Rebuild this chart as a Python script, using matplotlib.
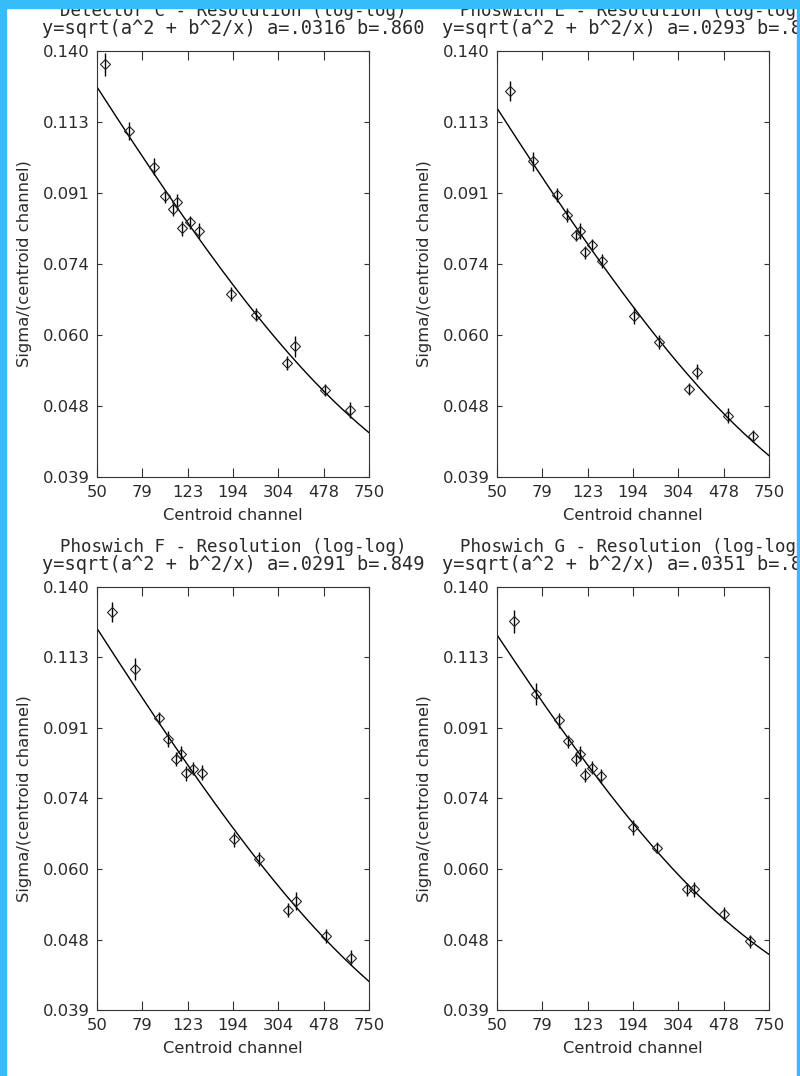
import numpy as np
import matplotlib
matplotlib.use("Agg")
import matplotlib.pyplot as plt
from matplotlib.ticker import NullLocator
from matplotlib.patches import Rectangle

# panel titles and fit parameters (a, b) of y = sqrt(a^2 + b^2/x)
names = ["Detector C", "Phoswich E", "Phoswich F", "Phoswich G"]
fit_a = [0.0316, 0.0293, 0.0291, 0.0351]
fit_b = [0.860, 0.808, 0.849, 0.820]

# centroid channel of each peak, per detector
x_c = [54.1, 68.5, 88.5, 98.1, 110.9, 106.9, 116.5, 126.2, 137.6, 190.5, 244.3, 331.5, 357.8, 482.4, 623.0]
x_e = [56.7, 71.3, 91.2, 100.7, 114.6, 109.8, 120.1, 128.7, 142.2, 196.2, 251.7, 339.3, 366.2, 497.0, 639.6]
x_f = [58.1, 73.2, 92.4, 101.4, 115.4, 110.2, 120.9, 129.6, 142.2, 195.0, 250.0, 333.7, 361.4, 488.9, 626.9]
x_g = [59.4, 73.5, 92.4, 101.0, 114.6, 110.2, 119.7, 128.7, 140.8, 193.1, 246.7, 332.6, 356.6, 480.8, 618.7]

# sigma / centroid
y_c = [0.1345, 0.1101, 0.0990, 0.0905, 0.0891, 0.0871, 0.0822, 0.0837, 0.0817, 0.0675, 0.0635, 0.0549, 0.0577, 0.0506, 0.0477]
y_e = [0.1242, 0.1006, 0.0909, 0.0856, 0.0816, 0.0805, 0.0766, 0.0782, 0.0746, 0.0633, 0.0585, 0.0508, 0.0535, 0.0469, 0.0441]
y_f = [0.1298, 0.1093, 0.0942, 0.0885, 0.0846, 0.0833, 0.0797, 0.0809, 0.0799, 0.0653, 0.0615, 0.0528, 0.0542, 0.0488, 0.0457]
y_g = [0.1263, 0.1014, 0.0936, 0.0878, 0.0846, 0.0833, 0.0794, 0.0811, 0.0792, 0.0677, 0.0637, 0.0562, 0.0562, 0.0522, 0.0480]

# errors
e_c = [0.0045, 0.0029, 0.0025, 0.0018, 0.0021, 0.0017, 0.0018, 0.0017, 0.0018, 0.0014, 0.0013, 0.0011, 0.0018, 0.0009, 0.0011]
e_e = [0.0037, 0.0029, 0.0019, 0.0018, 0.0019, 0.0014, 0.0015, 0.0014, 0.0016, 0.0016, 0.0012, 0.0009, 0.0012, 0.0011, 0.0008]
e_f = [0.0040, 0.0036, 0.0017, 0.0021, 0.0019, 0.0018, 0.0017, 0.0015, 0.0018, 0.0014, 0.0013, 0.0011, 0.0015, 0.0010, 0.0010]
e_g = [0.0043, 0.0033, 0.0021, 0.0018, 0.0019, 0.0018, 0.0017, 0.0016, 0.0017, 0.0015, 0.0011, 0.0011, 0.0013, 0.0010, 0.0009]

xs = [x_c, x_e, x_f, x_g]
ys = [y_c, y_e, y_f, y_g]
es = [e_c, e_e, e_f, e_g]

xtick_labels = ["50", "79", "123", "194", "304", "478", "750"]
ytick_labels = ["0.039", "0.048", "0.060", "0.074", "0.091", "0.113", "0.140"]
xmin, xmax = 50, 750
ymin, ymax = 0.039, 0.140

W, H = 800, 1076
fig = plt.figure(figsize=(W / 100, H / 100), dpi=100)
fig.patch.set_facecolor("white")
plt.rcParams["font.family"] = ["DejaVu Sans"]

txt = "#2a2a2a"
fs = 11.8

# axes boxes in pixels: left, top, right, bottom
boxes = [(97, 51, 369, 477), (497, 51, 769, 477),
         (97, 587, 369, 1010), (497, 587, 769, 1010)]

for i in range(4):
    l, t, r, b = boxes[i]
    ax = fig.add_axes([l / W, 1 - b / H, (r - l) / W, (b - t) / H])
    ax.set_xscale("log")
    ax.set_yscale("log")
    ax.set_xlim(xmin, xmax)
    ax.set_ylim(ymin, ymax)

    # fit curve
    xf = np.geomspace(xmin, xmax, 300)
    yf = np.sqrt(fit_a[i] ** 2 + fit_b[i] ** 2 / xf)
    ax.plot(xf, yf, color="black", lw=1.0)

    ax.errorbar(xs[i], ys[i], yerr=es[i], fmt="none", ecolor="black", elinewidth=1.0)
    ax.plot(xs[i], ys[i], "D", ms=5.6, mfc="none", mec="#222222", mew=0.8)

    ax.set_xticks(np.geomspace(xmin, xmax, 7))
    ax.set_xticklabels(xtick_labels)
    ax.set_yticks(np.geomspace(ymin, ymax, 7))
    ax.set_yticklabels(ytick_labels)
    ax.xaxis.set_minor_locator(NullLocator())
    ax.yaxis.set_minor_locator(NullLocator())
    ax.tick_params(axis="x", direction="in", top=True, length=6.2, width=0.8,
                   pad=6, labelsize=fs, labelcolor=txt, color="#333333")
    ax.tick_params(axis="y", direction="in", right=True, length=3.9, width=0.8,
                   pad=5, labelsize=fs, labelcolor=txt, color="#333333")
    for s in ax.spines.values():
        s.set_linewidth(0.8)
        s.set_color("#333333")

    ax.annotate("Centroid channel", xy=(0.5, 0), xycoords="axes fraction",
                xytext=(0, -27.5), textcoords="offset points",
                ha="center", va="center", fontsize=fs, color=txt)
    ax.text(-0.268, 0.5, "Sigma/(centroid channel)", transform=ax.transAxes,
            rotation=90, ha="center", va="center", fontsize=fs, color=txt)
    ax.annotate(names[i] + " - Resolution (log-log)", xy=(0.5, 1),
                xycoords="axes fraction", xytext=(0, 28.5),
                textcoords="offset points", ha="center", va="center",
                fontsize=12.6, family="DejaVu Sans Mono", color=txt,
                annotation_clip=False)
    ax.annotate("y=sqrt(a^2 + b^2/x) a=%s b=%s" % (("%.4f" % fit_a[i])[1:], ("%.3f" % fit_b[i])[1:]),
                xy=(0.5, 1), xycoords="axes fraction", xytext=(0, 16.5),
                textcoords="offset points", ha="center", va="center",
                fontsize=13.4, family="DejaVu Sans Mono", color=txt,
                annotation_clip=False)

# blue page frame
blue = "#36bcf9"
fig.add_artist(Rectangle((0, 1 - 8 / H), 1, 8 / H, transform=fig.transFigure,
                         color=blue, zorder=20))
fig.add_artist(Rectangle((0, 0), 6 / W, 1, transform=fig.transFigure,
                         color=blue, zorder=20))
fig.add_artist(Rectangle((1 - 3 / W, 0), 3 / W, 1, transform=fig.transFigure,
                         color=blue, zorder=20))

fig.savefig("out.png", dpi=100)
